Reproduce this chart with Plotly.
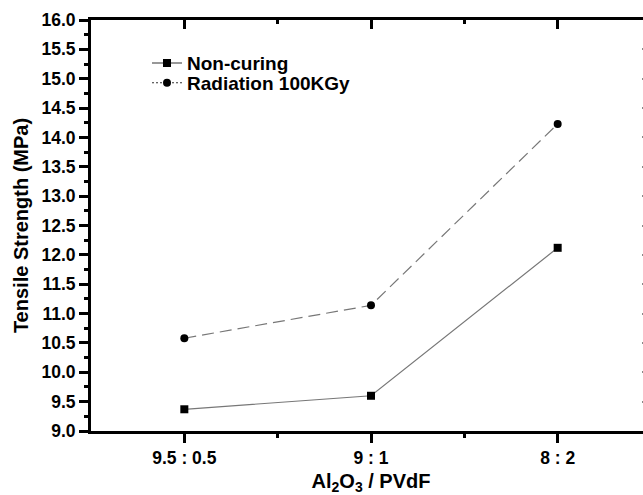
import plotly.graph_objects as go

categories = ["9.5 : 0.5", "9 : 1", "8 : 2"]
cat_pos = [1, 2, 3]
non_curing = [9.37, 9.60, 12.12]
radiation = [10.58, 11.14, 14.23]
series_names = ["Non-curing", "Radiation 100KGy"]

FONT = "Liberation Sans, Arial, sans-serif"
LINE_COL = "#777777"

fig = go.Figure()
fig.add_trace(go.Scatter(x=cat_pos, y=non_curing, mode="lines+markers",
                         line=dict(color=LINE_COL, width=1.2),
                         marker=dict(symbol="square", size=8, color="black"),
                         showlegend=False, hoverinfo="skip"))
fig.add_trace(go.Scatter(x=cat_pos, y=radiation, mode="lines+markers",
                         line=dict(color=LINE_COL, width=1.2, dash="12px,6px"),
                         marker=dict(symbol="circle", size=8, color="black"),
                         showlegend=False, hoverinfo="skip"))
# legend entries
fig.add_trace(go.Scatter(x=[None], y=[None], mode="lines+markers", name=series_names[0],
                         line=dict(color="#333333", width=1.2),
                         marker=dict(symbol="square", size=8, color="black"),
                         legend="legend"))
fig.add_trace(go.Scatter(x=[None], y=[None], mode="lines+markers", name=series_names[1],
                         line=dict(color="#333333", width=1.2, dash="2px,2px"),
                         marker=dict(symbol="circle", size=8, color="black"),
                         legend="legend2"))
# invisible trace to carry mirrored axes
fig.add_trace(go.Scatter(x=cat_pos, y=non_curing, xaxis="x2", yaxis="y2", mode="markers",
                         marker=dict(opacity=0), showlegend=False, hoverinfo="skip"))

legend_style = dict(xanchor="left", yanchor="middle",
                    bgcolor="rgba(0,0,0,0)", borderwidth=0,
                    font=dict(size=19, family=FONT, weight="bold"),
                    itemwidth=30)

fig.update_layout(
    width=700, height=495,
    margin=dict(l=91, r=49, t=20, b=64),
    paper_bgcolor="white", plot_bgcolor="white",
    font=dict(family=FONT, color="black"),
    xaxis=dict(range=[0.5, 3.5], tickvals=cat_pos, ticktext=categories,
               automargin=False,
               showline=True, linecolor="black", linewidth=3,
               ticks="outside", ticklen=9, tickwidth=2.5, tickcolor="black",
               minor=dict(tickvals=[1.5, 2.5], ticks="outside", ticklen=4, tickwidth=2.5, tickcolor="black"),
               showgrid=False, zeroline=False,
               tickfont=dict(size=17.5, family=FONT, weight="bold"),
               title=dict(text="Al<sub>2</sub>O<sub>3</sub> / PVdF", standoff=14,
                          font=dict(size=20, family=FONT, weight="bold"))),
    yaxis=dict(range=[9, 16], dtick=0.5, tickformat=".1f",
               automargin=False,
               showline=True, linecolor="black", linewidth=3,
               ticks="outside", ticklen=9, tickwidth=2.5, tickcolor="black",
               minor=dict(dtick=0.25, ticks="outside", ticklen=4, tickwidth=2.5, tickcolor="black"),
               showgrid=False, zeroline=False,
               tickfont=dict(size=17.5, family=FONT, weight="bold"),
               title=dict(text="Tensile Strength (MPa)", standoff=8,
                          font=dict(size=20, family=FONT, weight="bold"))),
    xaxis2=dict(range=[0.5, 3.5], overlaying="x", side="top", anchor="y",
                tickvals=cat_pos, showticklabels=False,
                showline=True, linecolor="black", linewidth=3,
                ticks="inside", ticklen=9, tickwidth=2.5, tickcolor="black",
                minor=dict(tickvals=[1.5, 2.5], ticks="inside", ticklen=4, tickwidth=2.5, tickcolor="black"),
                showgrid=False, zeroline=False),
    yaxis2=dict(range=[9, 16], overlaying="y", side="right", anchor="x",
                dtick=0.5, showticklabels=False,
                showline=True, linecolor="black", linewidth=3,
                ticks="inside", ticklen=9, tickwidth=2, tickcolor="#888888",
                showgrid=False, zeroline=False),
    legend=dict(x=0.1, y=0.895, **legend_style),
    legend2=dict(x=0.1, y=0.847, **legend_style),
    showlegend=True,
)

fig.write_html("out.html",
               post_script="document.body.style.overflow='hidden';document.documentElement.style.overflow='hidden';document.body.style.margin='0';")
